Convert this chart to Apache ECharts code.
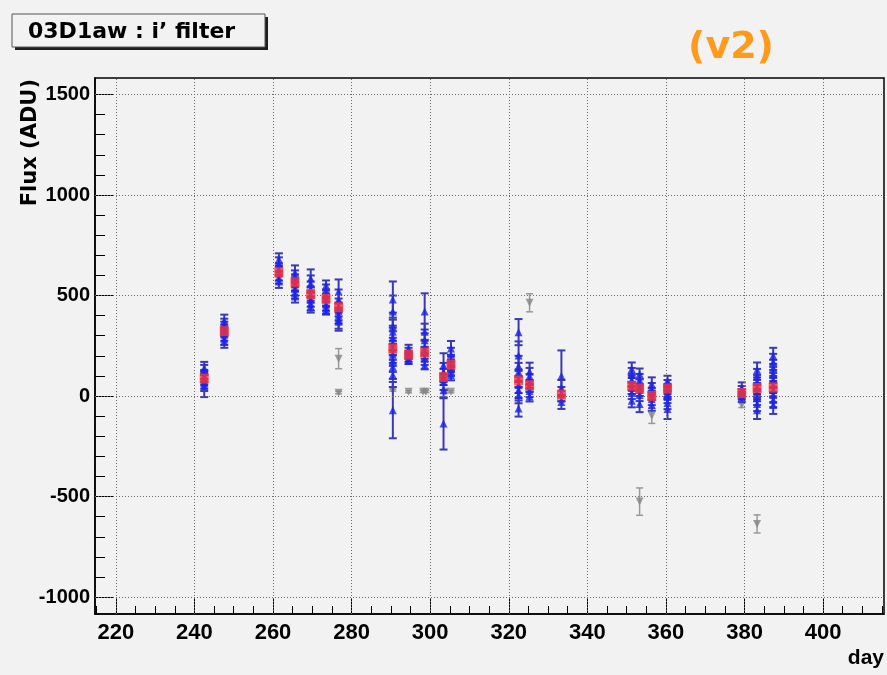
<!DOCTYPE html>
<html>
<head>
<meta charset="utf-8">
<script src="https://cdn.jsdelivr.net/npm/echarts@6/dist/echarts.min.js"></script>
<style>
html,body{margin:0;padding:0;background:#f2f2f2;}
#chart{width:887px;height:675px;}
</style>
</head>
<body>
<div id="chart"></div>
<script>
// ---- data ----
const xTicks = [220, 240, 260, 280, 300, 320, 340, 360, 380, 400];
const xMinorTicks = [215, 225, 230, 235, 245, 250, 255, 265, 270, 275, 285, 290, 295, 305, 310, 315, 325, 330, 335, 345, 350, 355, 365, 370, 375, 385, 390, 395, 405, 410, 415];
const yTicks = [-1000, -500, 0, 500, 1000, 1500];
const yMinorTicks = [-1100, -900, -800, -700, -600, -400, -300, -200, -100, 100, 200, 300, 400, 600, 700, 800, 900, 1100, 1200, 1300, 1400, 1600];

const nightDays = [242.5, 247.6, 261.5, 265.6, 269.6, 273.5, 276.7, 290.5, 294.5, 298.6, 303.4, 305.3, 322.5, 325.3, 333.4, 351.3, 353.3, 356.4, 360.4, 379.3, 383.2, 387.3];
const meanFlux = [87, 323, 616, 566, 508, 484, 442, 236, 206, 216, 95, 156, 78, 54, 7, 51, 38, 1, 38, 15, 40, 43];

const blueFlux = [
  [140, 120, 100, 90, 78, 65, 50],
  [375, 355, 340, 325, 305, 285, 270],
  [680, 655, 630, 610, 590, 570],
  [615, 595, 575, 555, 535, 515, 495],
  [585, 560, 530, 505, 480, 460, 445],
  [550, 525, 500, 480, 455, 440, 425],
  [520, 480, 440, 420, 400, 380, 370],
  [480, 420, 345, 320, 290, 262, 235, 205, 175, 145, 105, -70],
  [235, 220, 205, 190, 175],
  [421, 320, 277, 240, 215, 185, 153],
  [153, 120, 95, 70, 29, -136],
  [236, 205, 175, 150, 125, 103],
  [318, 202, 150, 120, 85, 55, 30, 4, -62],
  [121, 100, 75, 50, 25, -2],
  [100, 40, 10, -29],
  [134, 105, 80, 60, 40, 15, -23],
  [110, 80, 55, 30, 5, -40],
  [60, 35, 10, -15, -45],
  [76, 55, 35, 15, -5, -35, -64],
  [40, 25, 10, -5],
  [130, 100, 70, 45, 20, -10, -40, -70],
  [200, 170, 140, 110, 80, 55, 30, 5, -20, -45]
];
const blueErr = [
  [30, 35, 30, 35, 40, 40, 55],
  [30, 30, 30, 30, 30, 30, 30],
  [30, 35, 30, 35, 30, 32],
  [35, 30, 30, 35, 35, 30, 30],
  [45, 40, 40, 40, 35, 35, 30],
  [25, 30, 30, 30, 30, 30, 20],
  [60, 50, 45, 45, 40, 45, 45],
  [90, 80, 70, 60, 60, 60, 55, 55, 55, 60, 60, 140],
  [20, 20, 20, 20, 15],
  [90, 40, 35, 35, 30, 30, 20],
  [60, 45, 40, 40, 40, 130],
  [38, 35, 30, 30, 25, 25],
  [65, 70, 50, 45, 40, 40, 40, 40, 40],
  [45, 40, 35, 30, 30, 25],
  [127, 40, 35, 35],
  [33, 35, 30, 30, 30, 30, 33],
  [27, 30, 30, 30, 30, 40],
  [33, 30, 30, 30, 28],
  [25, 25, 25, 30, 30, 30, 50],
  [28, 25, 25, 25],
  [37, 35, 35, 35, 35, 35, 35, 44],
  [40, 40, 40, 35, 35, 35, 35, 35, 35, 44]
];

const grayDay = [276.7, 276.7, 290.5, 294.5, 298.2, 298.9, 303.8, 305.3, 325.3, 353.3, 356.4, 379.3, 383.2];
const grayFlux = [186, 17, 29, 21, 22, 22, 21, 21, 464, -525, -98, -45, -636];
const grayErr = [50, 6, 5, 5, 5, 5, 5, 5, 45, 68, 38, 12, 45];

// ---- build series data ----
const blueData = [], blueBars = [];
nightDays.forEach((d, i) => {
  blueFlux[i].forEach((f, j) => {
    const e = blueErr[i][j];
    blueData.push([d, f]);
    blueBars.push([d, f - e, f + e]);
  });
});
const redData = nightDays.map((d, i) => [d, meanFlux[i]]);
const grayData = grayDay.map((d, i) => [d, grayFlux[i]]);
const grayBars = grayDay.map((d, i) => [d, grayFlux[i] - grayErr[i], grayFlux[i] + grayErr[i]]);

function errRender(color, cap, lw) {
  return function (params, api) {
    const x = api.value(0);
    const lo = api.coord([x, api.value(1)]);
    const hi = api.coord([x, api.value(2)]);
    const st = { stroke: color, lineWidth: lw };
    return {
      type: 'group',
      children: [
        { type: 'line', shape: { x1: lo[0], y1: lo[1], x2: hi[0], y2: hi[1] }, style: st },
        { type: 'line', shape: { x1: lo[0] - cap, y1: lo[1], x2: lo[0] + cap, y2: lo[1] }, style: st },
        { type: 'line', shape: { x1: hi[0] - cap, y1: hi[1], x2: hi[0] + cap, y2: hi[1] }, style: st }
      ]
    };
  };
}

const X_MIN = 214.7, X_MAX = 415.5, Y_MIN = -1084, Y_MAX = 1582;
const labelFont = 'Liberation Sans';
const gridStyle = { color: '#6a6a6a', width: 1, type: [1, 2] };
const plain = v => String(v);

const chart = echarts.init(document.getElementById('chart'), null, { renderer: 'canvas' });
chart.setOption({
  backgroundColor: '#f2f2f2',
  animation: false,
  grid: { left: 95, right: 3, top: 78, bottom: 61, show: true, borderColor: '#000', borderWidth: 1.5, backgroundColor: 'transparent' },
  xAxis: [
    {
      type: 'value', min: X_MIN, max: X_MAX, position: 'bottom',
      axisLine: { show: true, onZero: false, lineStyle: { color: '#000', width: 1.5 } },
      axisTick: { show: true, inside: true, length: 15, customValues: xTicks, lineStyle: { color: '#000', width: 1 } },
      axisLabel: { customValues: xTicks, formatter: plain, color: '#000', fontSize: 22, fontWeight: 'bold', fontFamily: labelFont, margin: 8 },
      splitLine: { show: false }
    },
    {
      type: 'value', min: X_MIN, max: X_MAX, position: 'bottom', gridIndex: 0,
      axisLine: { show: false, onZero: false },
      axisTick: { show: true, inside: true, length: 8, customValues: xMinorTicks, lineStyle: { color: '#000', width: 1 } },
      axisLabel: { show: false },
      splitLine: { show: false }
    }
  ],
  yAxis: [
    {
      type: 'value', min: Y_MIN, max: Y_MAX, position: 'left',
      axisLine: { show: true, onZero: false, lineStyle: { color: '#000', width: 1.5 } },
      axisTick: { show: true, inside: true, length: 19, customValues: yTicks, lineStyle: { color: '#000', width: 1 } },
      axisLabel: { customValues: yTicks, formatter: plain, color: '#000', fontSize: 20, fontWeight: 'bold', fontFamily: labelFont, margin: 5 },
      splitLine: { show: false }
    },
    {
      type: 'value', min: Y_MIN, max: Y_MAX, position: 'left', gridIndex: 0,
      axisLine: { show: false, onZero: false },
      axisTick: { show: true, inside: true, length: 10, customValues: yMinorTicks, lineStyle: { color: '#000', width: 1 } },
      axisLabel: { show: false },
      splitLine: { show: false }
    }
  ],
  series: [
    {
      type: 'line', data: [], z: 1, silent: true,
      markLine: {
        silent: true, symbol: 'none', label: { show: false }, animation: false,
        lineStyle: gridStyle, emphasis: { disabled: true },
        data: yTicks.map(v => ({ yAxis: v })).concat(xTicks.map(v => ({ xAxis: v })))
      }
    },
    {
      type: 'custom', name: 'grayErr', data: grayBars, z: 2,
      encode: { x: 0, y: [1, 2] }, renderItem: errRender('#999999', 3.5, 1.5), silent: true
    },
    {
      type: 'scatter', name: 'gray', data: grayData, z: 3, symbol: 'triangle', symbolRotate: 180, symbolSize: 8,
      itemStyle: { color: '#858585' }, silent: true
    },
    {
      type: 'custom', name: 'blueErr', data: blueBars, z: 4,
      encode: { x: 0, y: [1, 2] }, renderItem: errRender('#3a3ab4', 4, 2), silent: true
    },
    {
      type: 'scatter', name: 'blue', data: blueData, z: 5, symbol: 'triangle', symbolSize: 8,
      itemStyle: { color: '#1a22f0' }, silent: true
    },
    {
      type: 'scatter', name: 'mean', data: redData, z: 6, symbol: 'rect', symbolSize: [9, 10],
      itemStyle: { color: '#ff3333' }, silent: true
    }
  ],
  graphic: [
    { type: 'rect', shape: { x: 15, y: 17, width: 253, height: 33 }, style: { fill: '#1e1e1e' }, z: 10 },
    { type: 'rect', shape: { x: 12, y: 14, width: 253, height: 33 }, style: { fill: '#f2f2f2', stroke: '#555', lineWidth: 1 }, z: 11 },
    { type: 'text', x: 28, y: 32, z: 12, style: { text: '03D1aw : i’ filter', fill: '#000', font: "bold 22px 'DejaVu Sans', sans-serif", textVerticalAlign: 'middle', textAlign: 'left' } },
    { type: 'text', x: 731, y: 48, z: 12, style: { text: '(v2)', fill: '#ff9a1a', font: "bold 38px 'DejaVu Sans', sans-serif", textVerticalAlign: 'middle', textAlign: 'center' } },
    { type: 'text', x: 31, y: 79, rotation: Math.PI / 2, z: 12, style: { text: 'Flux (ADU)', fill: '#000', font: "bold 21px 'DejaVu Sans', sans-serif", textVerticalAlign: 'middle', textAlign: 'right' } },
    { type: 'text', x: 884, y: 658, z: 12, style: { text: 'day', fill: '#000', font: "bold 21px 'Liberation Sans', sans-serif", textVerticalAlign: 'middle', textAlign: 'right' } }
  ]
});
</script>
</body>
</html>
